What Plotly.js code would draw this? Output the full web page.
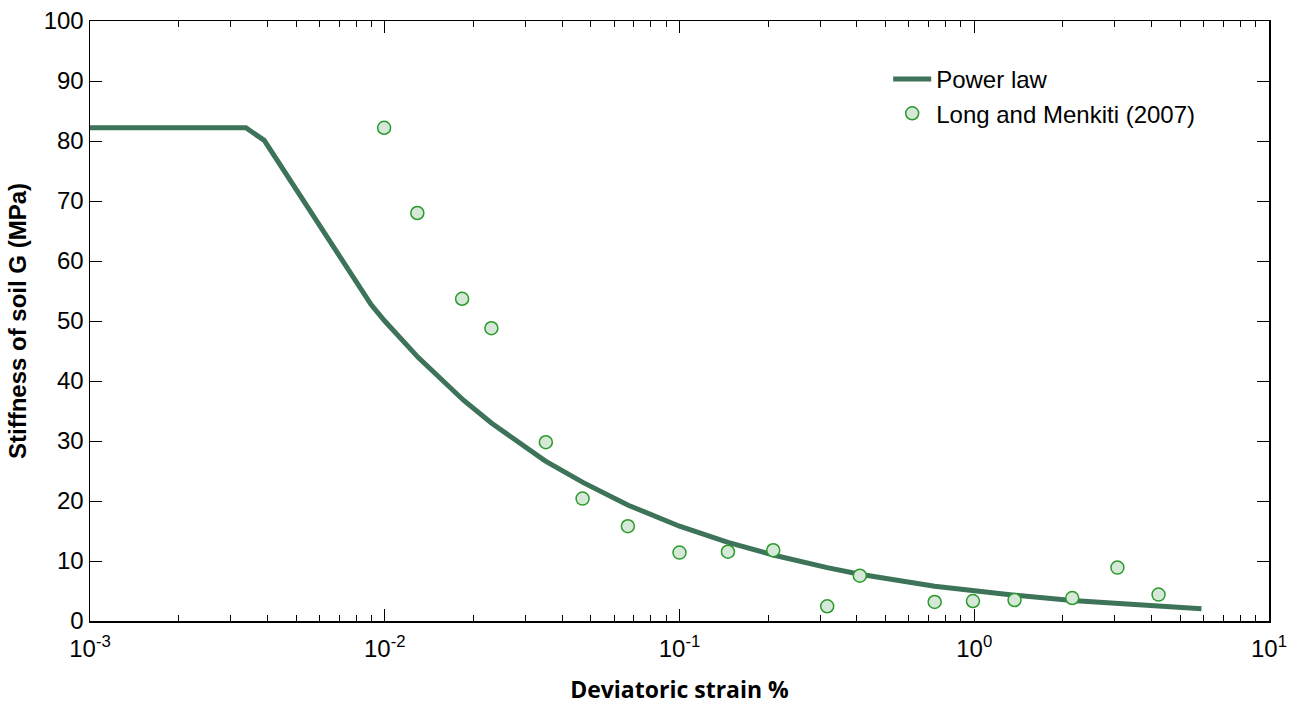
<!DOCTYPE html>
<html>
<head>
<meta charset="utf-8">
<script src="https://cdn.plot.ly/plotly-3.0.1.min.js"></script>
<style>html,body{margin:0;padding:0;background:#fff;}#chart{width:1303px;height:706px;}</style>
</head>
<body>
<div id="chart"></div>
<script>
// Power law curve
const powerStrain = [0.001, 0.00338, 0.0039, 0.009, 0.01, 0.013, 0.0185, 0.023, 0.035, 0.047, 0.067, 0.1, 0.146, 0.208, 0.317, 0.409, 0.734, 1.0, 1.37, 2.15, 3.06, 4.22, 5.9];
const powerG = [82.2, 82.2, 80.1, 52.7, 50.0, 43.9, 36.8, 33.0, 26.7, 23.1, 19.3, 15.8, 13.1, 11.0, 8.9, 7.8, 5.8, 5.0, 4.3, 3.4, 2.9, 2.4, 2.06];

// Long and Menkiti (2007) data
const dataStrain = [0.00995, 0.0129, 0.0183, 0.023, 0.0352, 0.0469, 0.0668, 0.1, 0.146, 0.208, 0.317, 0.409, 0.734, 0.99, 1.37, 2.15, 3.06, 4.22];
const dataG = [82.2, 68.0, 53.7, 48.8, 29.8, 20.4, 15.8, 11.4, 11.55, 11.8, 2.45, 7.55, 3.17, 3.33, 3.5, 3.83, 8.9, 4.4];

// Tick labels
const xTickVals = [0.001, 0.01, 0.1, 1, 10];
const xTickText = ["10<sup>-3</sup>", "10<sup>-2</sup>", "10<sup>-1</sup>", "10<sup>0</sup>", "10<sup>1</sup>"];
const yTickVals = [0, 10, 20, 30, 40, 50, 60, 70, 80, 90, 100];

const traces = [
  {
    x: powerStrain, y: powerG, type: 'scatter', mode: 'lines', name: 'Power law',
    line: {color: '#3d7358', width: 5}
  },
  {
    x: dataStrain, y: dataG, type: 'scatter', mode: 'markers', name: 'Long and Menkiti (2007)',
    marker: {size: 13, color: '#d6e9d8', line: {color: '#2a9a2a', width: 1.5}}
  }
];

const tickFont = {family: 'Liberation Sans, Arial, sans-serif', size: 24, color: '#000'};

const layout = {
  width: 1303, height: 706,
  margin: {l: 90, r: 34, t: 21, b: 85},
  paper_bgcolor: '#fff', plot_bgcolor: '#fff',
  showlegend: true,
  legend: {
    x: 0.677, y: 0.94, xanchor: 'left', yanchor: 'top',
    bgcolor: 'rgba(0,0,0,0)', borderwidth: 0,
    font: {family: 'Liberation Sans, Arial, sans-serif', size: 24, color: '#000'},
    tracegroupgap: 0, itemwidth: 38
  },
  xaxis: {
    type: 'log', range: [-3, 1],
    tickvals: xTickVals, ticktext: xTickText,
    ticks: 'inside', ticklen: 12, tickwidth: 1, tickcolor: '#000',
    minor: {ticks: 'inside', ticklen: 6, tickcolor: '#000', dtick: 'D1', showgrid: false},
    showline: true, linecolor: '#000', linewidth: 1.5, mirror: 'ticks',
    showgrid: false, zeroline: false,
    tickfont: tickFont, ticklabelstandoff: 6,
    title: {text: 'Deviatoric strain %', font: {family: 'Open Sans, sans-serif', size: 23, color: '#000', weight: 'bold'}, standoff: 20}
  },
  yaxis: {
    range: [0, 100],
    tickvals: yTickVals,
    ticks: 'inside', ticklen: 12, tickwidth: 1, tickcolor: '#000',
    showline: true, linecolor: '#000', linewidth: 1.5, mirror: 'ticks',
    showgrid: false, zeroline: false,
    tickfont: tickFont,
    title: {text: '<b>Stiffness of soil G (MPa)</b>', font: {family: 'Liberation Sans, Arial, sans-serif', size: 24, color: '#000'}, standoff: 10}
  }
};

Plotly.newPlot('chart', traces, layout, {displayModeBar: false, staticPlot: true});
</script>
</body>
</html>
